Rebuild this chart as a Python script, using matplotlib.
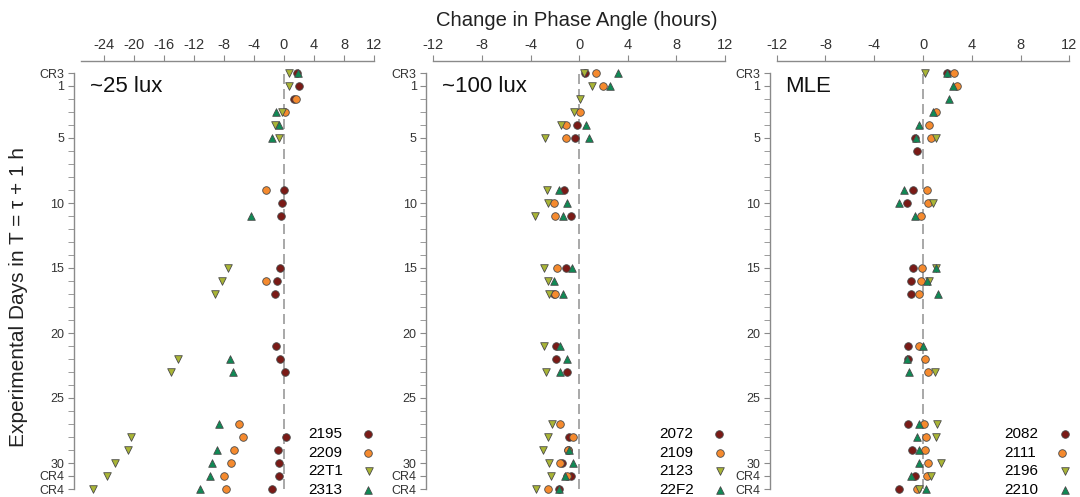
import numpy as np
import matplotlib
matplotlib.use("Agg")
import matplotlib.pyplot as plt
import matplotlib.transforms as mtransforms

plt.rcParams['font.family'] = ['Liberation Sans', 'DejaVu Sans']

nan = np.nan
# sampled days (0 = CR3, 31/32 = CR4)
days = [0, 1, 2, 3, 4, 5, 6, 9, 10, 11, 15, 16, 17, 21, 22, 23, 27, 28, 29, 30, 31, 32]

# ~25 lux
p1_names = ["2195", "2209", "22T1", "2313"]
p1_a = [1.7, 2.0, 1.3, nan, nan, nan, nan, 0.05, -0.2, -0.35, -0.5, -0.85, -1.2, -1.07, -0.5, 0.13, nan, 0.3, -0.76, -0.6, -0.6, -1.6]
p1_b = [nan, nan, 1.6, 0.1, nan, nan, nan, -2.4, nan, nan, nan, -2.4, nan, nan, nan, nan, -6.0, -5.4, -6.6, -7.0, -7.9, -7.7]
p1_c = [0.7, 0.7, nan, -0.3, -1.2, -0.6, nan, nan, nan, nan, -7.5, -8.2, -9.1, nan, -14.1, -15.0, nan, -20.4, -20.7, -22.5, -23.6, -25.4]
p1_d = [1.9, nan, nan, -1.0, -0.7, -1.6, nan, nan, nan, -4.4, nan, nan, nan, nan, -7.2, -6.8, -8.6, nan, -8.9, -9.6, -9.8, -11.2]

# ~100 lux
p2_names = ["2072", "2109", "2123", "22F2"]
p2_a = [0.45, nan, nan, nan, -0.16, -0.33, nan, -1.21, nan, -0.69, -1.1, nan, -2.1, -1.92, -1.92, -0.96, nan, -0.82, -0.95, -1.4, -0.66, -1.65]
p2_b = [1.4, 1.95, nan, 0.03, -1.07, -1.07, nan, nan, -2.06, -1.97, -1.81, nan, -2.0, nan, nan, nan, -1.54, -0.47, -0.9, -1.56, -1.0, -2.58]
p2_c = [0.4, 1.07, 0.03, -0.4, -1.48, -2.8, nan, -2.66, -2.6, -3.6, -2.9, -2.6, -2.47, -2.9, nan, -2.69, -2.22, -2.58, -2.99, -2.52, -2.28, -3.57]
p2_d = [3.2, 2.55, nan, nan, 0.58, 0.82, nan, -1.65, -1.04, -1.34, -0.6, -2.06, -1.34, -1.54, -1.01, -1.56, nan, nan, -0.85, -0.49, -1.13, -1.62]

# MLE
p3_names = ["2082", "2111", "2196", "2210"]
p3_a = [2.0, nan, nan, nan, nan, -0.69, -0.52, -0.8, -1.31, nan, -0.85, -0.98, -0.96, -1.2, -1.23, nan, -1.26, nan, -0.88, nan, -0.69, -1.97]
p3_b = [2.57, 2.81, nan, 1.06, 0.52, 0.63, nan, 0.33, 0.38, -0.14, -0.11, -0.16, -0.33, -0.36, 0.13, 0.41, 0.05, 0.25, 0.19, 0.38, 0.3, -0.47]
p3_c = [0.19, nan, nan, nan, nan, 1.06, nan, nan, 0.82, nan, 1.05, 0.52, nan, nan, nan, 0.98, 1.12, 1.06, nan, 1.48, 0.66, -0.33]
p3_d = [2.0, 2.48, 2.1, 0.79, -0.36, -0.58, nan, -1.59, -1.94, -0.69, 1.09, 0.33, 1.2, 0.0, -1.31, -1.15, -0.36, -0.52, -0.36, -0.36, -1.01, 0.25]

panel_titles = ["~25 lux", "~100 lux", "MLE"]
ytick_pos = [0, 1, 5, 10, 15, 20, 25, 30, 31, 32]
ytick_lab = ["CR3", "1", "5", "10", "15", "20", "25", "30", "CR4", "CR4"]

colors = ['#7a1a16', '#f58a2e', '#a9b535', '#0f8a55']
markers = ['o', 'o', 'v', '^']

panels = [
    (p1_names, [p1_a, p1_b, p1_c, p1_d], (-27, 12), np.arange(-24, 13, 4)),
    (p2_names, [p2_a, p2_b, p2_c, p2_d], (-12, 12), np.arange(-12, 13, 4)),
    (p3_names, [p3_a, p3_b, p3_c, p3_d], (-12, 12), np.arange(-12, 13, 4)),
]

W, H = 1080, 497
fig = plt.figure(figsize=(W / 100, H / 100), dpi=100)
lefts = [81, 433.3, 776.7]
rights = [374, 725, 1069.3]
top_px, bot_px = 73, 489

gray = '#8a8a8a'
for i, (names, series, xlim, xticks) in enumerate(panels):
    ax = fig.add_axes([lefts[i] / W, 1 - bot_px / H, (rights[i] - lefts[i]) / W, (bot_px - top_px) / H])
    ax.axvline(0, color='#9a9a9a', lw=1.2, ls=(0, (6, 3)), zorder=1)
    for k in range(4):
        ax.scatter(series[k], days, s=30, marker=markers[k], c=colors[k], edgecolors='#4a4a4a',
                   linewidths=0.6, zorder=3 + k, clip_on=False, label=names[k])
    ax.set_xlim(*xlim)
    ax.set_ylim(32, 0)
    ax.xaxis.tick_top()
    ax.set_xticks(xticks)
    ax.set_xticklabels([str(t) for t in xticks])
    ax.set_yticks(ytick_pos)
    ax.set_yticklabels(ytick_lab)
    ax.set_yticks(range(0, 33), minor=True)
    for s in ['right', 'bottom']:
        ax.spines[s].set_visible(False)
    ax.spines['left'].set_position(('outward', 5))
    ax.spines['top'].set_position(('outward', 9))
    for s in ['left', 'top']:
        ax.spines[s].set_color(gray)
        ax.spines[s].set_linewidth(1.0)
    ax.tick_params(axis='x', which='major', direction='out', length=4, color=gray,
                   labelsize=10.5, labelcolor='#333333', pad=2)
    ax.tick_params(axis='y', which='both', direction='out', length=4, color=gray,
                   labelsize=9, labelcolor='#333333', pad=3)
    ax.set_facecolor('none')
    ax.text(0.03, 1, panel_titles[i], transform=mtransforms.blended_transform_factory(ax.transAxes, ax.transData),
            fontsize=16, va='center', ha='left', color='#111111')
    leg = ax.legend(loc='lower right', bbox_to_anchor=(1.01, -0.02), frameon=False, markerfirst=False,
                    fontsize=11, handlelength=1.0, handletextpad=1.2, labelspacing=0.32, borderpad=0,
                    borderaxespad=0, scatterpoints=1)
    # left-align the label column like the original
    for col in leg._legend_handle_box.get_children():
        col.align = 'left'

fig.text(577 / W, 1 - 20 / H, "Change in Phase Angle (hours)", ha='center', va='center', fontsize=14.6, color='#222222')
fig.text(19 / W, 1 - 297 / H, "Experimental Days in T = \u03c4 + 1 h", ha='center', va='center',
         rotation=90, fontsize=15, color='#222222')

fig.savefig("out.png", dpi=100)
